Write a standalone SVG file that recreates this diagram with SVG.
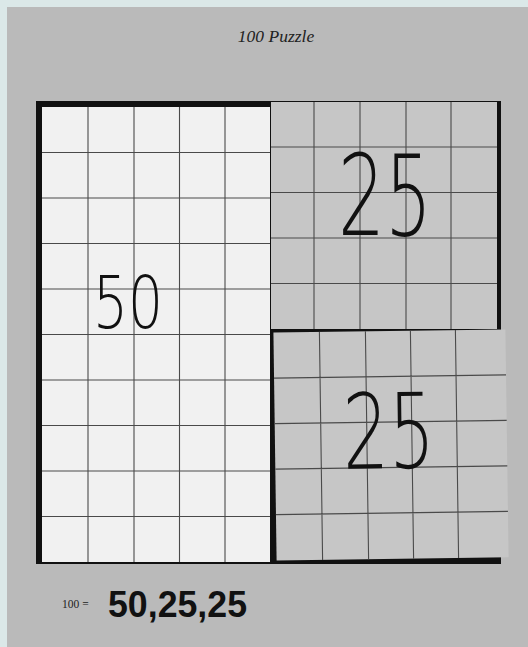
<svg xmlns="http://www.w3.org/2000/svg" width="528" height="647" viewBox="0 0 528 647">
<defs>
<style>
.grid{stroke:#4a4a4a;stroke-width:1.1;fill:none}
.hand{font-family:"DejaVu Sans",sans-serif;font-weight:200;fill:#111}
.serif{font-family:"Liberation Serif",serif;fill:#222}
</style>
</defs>
<rect x="0" y="0" width="528" height="647" fill="#dbe8e8"/>
<rect x="7" y="7" width="521" height="640" fill="#bababa"/>
<text class="serif" x="276" y="42" font-size="17.5" font-style="italic" text-anchor="middle">100 Puzzle</text>
<g id="frame">
<rect x="36" y="101" width="465" height="463" fill="#111"/>
</g>
<g id="sheet-50">
<rect x="42" y="107" width="228" height="455" fill="#f1f1f1"/>
<path class="grid" d="M88 107V562M134 107V562M179.5 107V562M225 107V562M42 152.5H270M42 198H270M42 243.5H270M42 289H270M42 334.5H270M42 380H270M42 425.5H270M42 471H270M42 516.5H270"/>
<text class="hand" x="93" y="328" font-size="73" textLength="70" lengthAdjust="spacingAndGlyphs">50</text>
</g>
<g id="sheet-25-top">
<rect x="271" y="102" width="226" height="227" fill="#c6c6c6"/>
<path class="grid" d="M314 102V329M360 102V329M406 102V329M451 102V329M271 147H497M271 192.5H497M271 238H497M271 283.5H497"/>
<text class="hand" x="338" y="235" font-size="112" textLength="94" lengthAdjust="spacingAndGlyphs">25</text>
</g>
<g id="sheet-25-bottom" transform="rotate(-0.8 390 445)">
<rect x="275" y="331" width="232" height="228" fill="#c6c6c6"/>
<path class="grid" d="M321 331V559M367 331V559M412 331V559M457 331V559M275 376.5H507M275 422H507M275 467.5H507M275 513H507"/>
<text class="hand" x="343" y="468" font-size="104" textLength="92" lengthAdjust="spacingAndGlyphs">25</text>
</g>
<g id="answer">
<text class="serif" x="62" y="608" font-size="11.5">100 =</text>
<text x="108" y="617" font-family="Liberation Sans, sans-serif" font-weight="bold" font-size="37" fill="#111" textLength="139" lengthAdjust="spacingAndGlyphs">50,25,25</text>
</g>
</svg>
